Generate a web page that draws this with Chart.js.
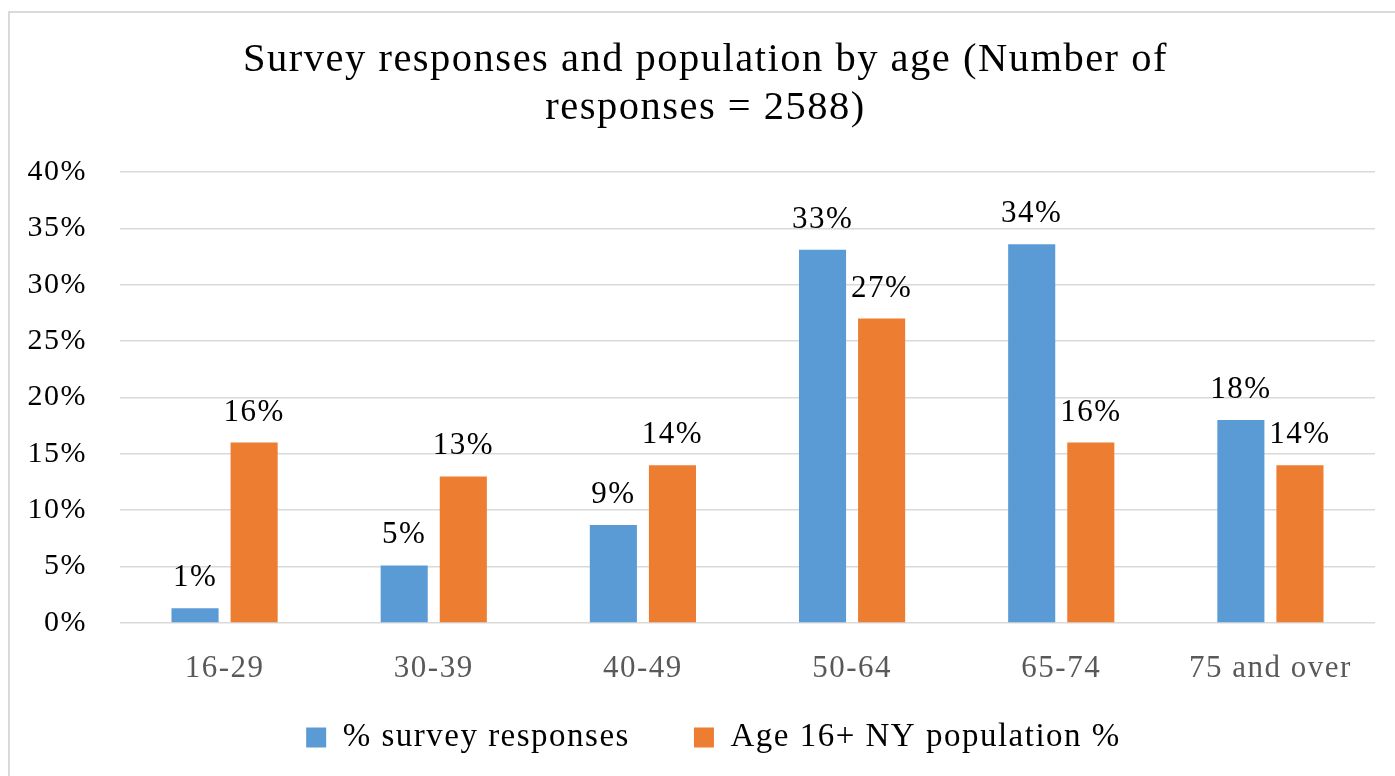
<!DOCTYPE html>
<html>
<head>
<meta charset="utf-8">
<title>Survey responses and population by age</title>
<script src="https://cdn.jsdelivr.net/npm/chart.js@4.4.1/dist/chart.umd.min.js"></script>
<style>
  html, body { margin: 0; padding: 0; background: #fff; overflow: hidden; }
  #frame {
    position: absolute; left: 8px; top: 11px; width: 1420px; height: 800px;
    border: 2px solid #dadada; pointer-events: none;
  }
  #chart { position: absolute; left: 0; top: 0; }
</style>
</head>
<body>
<canvas id="chart" width="1395" height="776"></canvas>
<div id="frame"></div>
<script>
var ageGroups = ["16-29", "30-39", "40-49", "50-64", "65-74", "75 and over"];
var surveyPct = [1.3, 5.1, 8.7, 33.1, 33.6, 18.0];
var populationPct = [16, 13, 14, 27, 16, 14];
var seriesNames = ["% survey responses", "Age 16+ NY population %"];
var yTicks = [0, 5, 10, 15, 20, 25, 30, 35, 40];

var blue = "#5B9BD5";
var orange = "#ED7D31";

Chart.defaults.font.family = "'Liberation Serif', 'Times New Roman', serif";
Chart.defaults.color = "#000";

// Excel spreads its letters a bit, canvas has letterSpacing for that
var spacingPlugin = {
  id: "spacing",
  beforeUpdate: function(chart) { chart.ctx.letterSpacing = "1.5px"; },
  beforeLayout: function(chart) { chart.ctx.letterSpacing = "1.5px"; },
  beforeDraw: function(chart) { chart.ctx.letterSpacing = "1.5px"; },
  afterLayout: function(chart) {
    // the original centres title and legend a little right of the plot
    if (chart.titleBlock) { chart.titleBlock.left += 13; chart.titleBlock.right += 13; }
    if (chart.legend) { chart.legend.left += 21; chart.legend.right += 21; }
  }
};

// value labels above the bars
var barLabels = {
  id: "barLabels",
  afterDatasetsDraw: function(chart) {
    var ctx = chart.ctx;
    ctx.save();
    ctx.font = "31px 'Liberation Serif', 'Times New Roman', serif";
    ctx.fillStyle = "#000";
    ctx.textAlign = "center";
    ctx.textBaseline = "alphabetic";
    chart.data.datasets.forEach(function(ds, i) {
      var meta = chart.getDatasetMeta(i);
      meta.data.forEach(function(bar, j) {
        ctx.fillText(Math.round(ds.data[j]) + "%", bar.x, bar.y - 22);
      });
    });
    ctx.restore();
  }
};

var chart = new Chart(document.getElementById("chart"), {
  type: "bar",
  data: {
    labels: ageGroups,
    datasets: [{
      label: seriesNames[0],
      data: surveyPct,
      backgroundColor: blue,
      categoryPercentage: 0.565,
      barPercentage: 0.797
    }, {
      label: seriesNames[1],
      data: populationPct,
      backgroundColor: orange,
      categoryPercentage: 0.565,
      barPercentage: 0.797
    }]
  },
  options: {
    responsive: false,
    animation: false,
    layout: { padding: { left: 10, right: 20, top: 0, bottom: 12 } },
    plugins: {
      title: {
        display: true,
        text: ["Survey responses and population by age (Number of", "responses = 2588)"],
        color: "#000",
        font: { size: 40.5, weight: "normal", lineHeight: 1.185 },
        padding: { top: 36, bottom: 40 }
      },
      legend: {
        position: "bottom",
        labels: {
          color: "#000",
          font: { size: 33 },
          boxWidth: 20,
          boxHeight: 20,
          padding: 64
        }
      },
      tooltip: { enabled: false }
    },
    scales: {
      x: {
        grid: { display: false, drawTicks: false },
        border: { display: false },
        ticks: { color: "#595959", font: { size: 31 }, padding: 27 },
        afterFit: function(scale) {
          // short box so the legend sits close, labels may spill below it
          scale.height = 34;
          scale._computeLabelArea = function() { return undefined; };
        }
      },
      y: {
        min: 0,
        max: 40,
        afterBuildTicks: function(scale) {
          scale.ticks = yTicks.map(function(v) { return { value: v }; });
        },
        grid: { color: "#d9d9d9", lineWidth: 1.5, drawTicks: false },
        border: { display: false },
        ticks: {
          color: "#000",
          font: { size: 30 },
          padding: 33,
          callback: function(v) { return v + "%"; }
        },
        afterFit: function(scale) { scale.width = 110; }
      }
    }
  },
  plugins: [spacingPlugin, barLabels]
});
</script>
</body>
</html>
